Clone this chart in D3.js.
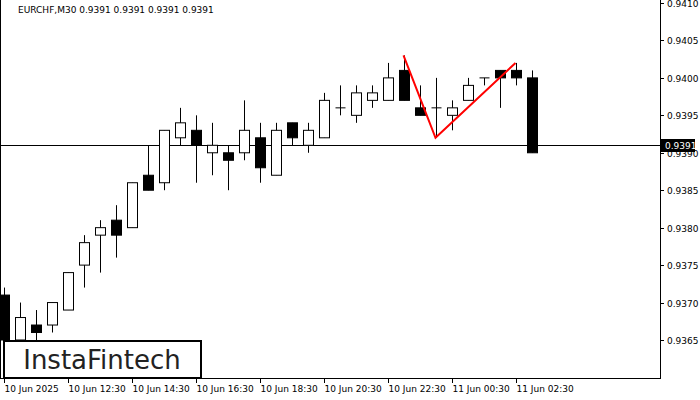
<!DOCTYPE html><html><head><meta charset="utf-8">
<script src="https://cdn.jsdelivr.net/npm/d3@7"></script>
<style>body{margin:0;background:#fff}text{font-family:"DejaVu Sans",sans-serif}</style></head><body>
<svg id="c" width="700" height="400"></svg>
<script>
const open_ = [0.9371,0.9365,0.9367,0.9367,0.9369,0.9375,0.9379,0.9381,0.9380,0.9387,0.9386,0.9392,0.9393,0.9390,0.9390,0.9390,0.9392,0.9387,0.9394,0.9391,0.9392,0.9396,0.9395,0.9397,0.9397,0.9401,0.9396,0.9396,0.9395,0.9397,0.9400,0.9401,0.9401,0.9400];
const close_= [0.9365,0.9368,0.9366,0.9370,0.9374,0.9378,0.9380,0.9379,0.9386,0.9385,0.9393,0.9394,0.9391,0.9391,0.9389,0.9393,0.9388,0.9393,0.9392,0.9393,0.9397,0.9396,0.9398,0.9398,0.9400,0.9397,0.9395,0.9396,0.9396,0.9399,0.9400,0.9400,0.9400,0.9390];
const high_ = [0.9372,0.9370,0.9369,0.9370,0.9374,0.9379,0.9381,0.9383,0.9386,0.9391,0.9393,0.9396,0.9395,0.9394,0.9391,0.9397,0.9394,0.9394,0.9394,0.9394,0.9398,0.9399,0.9399,0.9399,0.9402,0.9403,0.9399,0.9400,0.9397,0.9400,0.9400,0.9401,0.9402,0.9401];
const low_  = [0.9363,0.9363,0.9365,0.9366,0.9369,0.9372,0.9374,0.9376,0.9380,0.9385,0.9385,0.9391,0.9386,0.9387,0.9385,0.9389,0.9386,0.9387,0.9391,0.9390,0.9392,0.9395,0.9394,0.9396,0.9397,0.9397,0.9395,0.9392,0.9393,0.9397,0.9399,0.9396,0.9399,0.9390];
const xLabels = ["10 Jun 2025","10 Jun 12:30","10 Jun 14:30","10 Jun 16:30","10 Jun 18:30","10 Jun 20:30","10 Jun 22:30","11 Jun 00:30","11 Jun 02:30"];
const xLabelIdx = [0,4,8,12,16,20,24,28,32];
const yTicks = [0.9410,0.9405,0.9400,0.9395,0.9390,0.9385,0.9380,0.9375,0.9370,0.9365];
const patIdx = [25,27,32], patPrice = [0.9403,0.9392,0.9402];
const lastPrice = 0.9391;

const svg = d3.select("#c");
const x = d3.scaleLinear().domain([0,1]).range([3.5,19.5]);
const y = d3.scaleLinear().domain([0.9365,0.9410]).range([340,3]);
const g = svg.append("g");
g.append("clipPath").attr("id","cl").append("rect").attr("x",0).attr("y",0).attr("width",660).attr("height",378);
const pg = g.append("g").attr("clip-path","url(#cl)");
// last price line
pg.append("line").attr("x1",0).attr("x2",660).attr("y1",Math.round(y(lastPrice))+0.5).attr("y2",Math.round(y(lastPrice))+0.5).attr("stroke","#000");
open_.forEach((o,i)=>{
  const c=close_[i], cx=Math.round(x(i))+0.5;
  pg.append("line").attr("x1",cx).attr("x2",cx).attr("y1",y(high_[i])).attr("y2",y(low_[i])).attr("stroke","#000");
  const top=y(Math.max(o,c)), bot=y(Math.min(o,c));
  if(Math.abs(bot-top)<1){pg.append("line").attr("x1",cx-5).attr("x2",cx+5).attr("y1",top).attr("y2",top).attr("stroke","#000");}
  else pg.append("rect").attr("x",cx-5).attr("y",top).attr("width",10).attr("height",bot-top)
    .attr("fill",c>=o?"#fff":"#000").attr("stroke","#000");
});
pg.append("path").attr("d",d3.line().x((d,k)=>x(patIdx[k])).y(d=>y(d))(patPrice))
  .attr("fill","none").attr("stroke","#f00").attr("stroke-width",2);
// axes frame
svg.append("line").attr("x1",660.5).attr("x2",660.5).attr("y1",0).attr("y2",378).attr("stroke","#000");
svg.append("line").attr("x1",0).attr("x2",661).attr("y1",378.5).attr("y2",378.5).attr("stroke","#000");
svg.append("line").attr("x1",0.5).attr("x2",0.5).attr("y1",0).attr("y2",378).attr("stroke","#000");
yTicks.forEach(t=>{
  const yy=Math.round(y(t))+0.5;
  svg.append("line").attr("x1",660).attr("x2",664).attr("y1",yy).attr("y2",yy).attr("stroke","#000");
  svg.append("text").attr("x",667).attr("y",yy+3.5).attr("font-size",9).text(t.toFixed(4));
});
const ly=Math.round(y(lastPrice));
svg.append("rect").attr("x",661).attr("y",ly-6).attr("width",34).attr("height",13).attr("fill","#000");
svg.append("text").attr("x",665).attr("y",ly+4).attr("font-size",9).attr("fill","#fff").text(lastPrice.toFixed(4));
xLabelIdx.forEach((k,j)=>{
  const xx=Math.round(x(k))+0.5;
  svg.append("line").attr("x1",xx).attr("x2",xx).attr("y1",378).attr("y2",383).attr("stroke","#000");
  svg.append("text").attr("x",xx).attr("y",392).attr("font-size",9).text(xLabels[j]);
});
svg.append("text").attr("x",18).attr("y",13).attr("font-size",9).text("EURCHF,M30  0.9391 0.9391 0.9391 0.9391");
svg.append("rect").attr("x",4).attr("y",341).attr("width",197).attr("height",37).attr("fill","#fff").attr("stroke","#000").attr("stroke-width",2);
svg.append("text").attr("x",102).attr("y",369).attr("text-anchor","middle").attr("font-size",26).attr("font-family","Inter, sans-serif").attr("fill","#222").text("InstaFintech");
</script></body></html>
